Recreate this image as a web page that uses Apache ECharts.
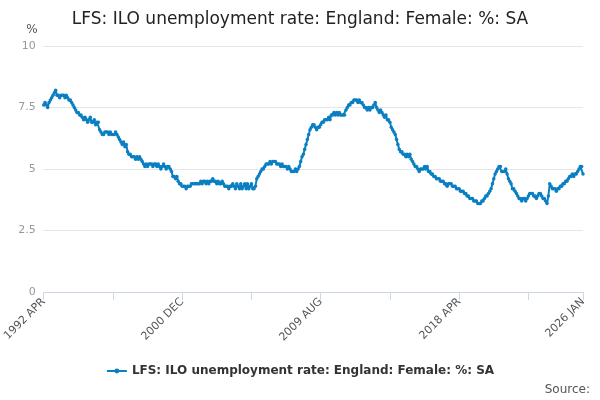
<!DOCTYPE html>
<html>
<head>
<meta charset="utf-8">
<script src="https://cdn.jsdelivr.net/npm/echarts@6/dist/echarts.min.js"></script>
<style>html,body{margin:0;padding:0;background:#fff}#chart{width:600px;height:400px}</style>
</head>
<body>
<div id="chart"></div>
<script>
const seriesName = "LFS: ILO unemployment rate: England: Female: %: SA";
// monthly values from 1992 APR to 2026 JAN
const values = [
  7.6,7.7,7.6,7.5,7.7,7.8,7.9,8.0,8.1,
  8.2,8.0,8.0,7.9,8.0,8.0,8.0,7.9,8.0,7.9,7.8,7.8,
  7.7,7.6,7.5,7.4,7.3,7.3,7.2,7.2,7.1,7.0,7.1,7.0,
  6.9,7.0,7.1,6.9,6.9,7.0,6.8,6.9,6.9,6.6,6.5,6.4,
  6.4,6.5,6.5,6.5,6.4,6.5,6.4,6.4,6.4,6.5,6.4,6.3,
  6.2,6.1,6.0,6.1,5.9,6.0,5.7,5.6,5.6,5.5,5.5,5.5,
  5.4,5.5,5.4,5.5,5.4,5.3,5.2,5.1,5.2,5.1,5.2,5.2,
  5.2,5.1,5.2,5.2,5.1,5.2,5.1,5.0,5.1,5.2,5.1,5.0,
  5.1,5.1,5.0,4.9,4.7,4.7,4.6,4.7,4.5,4.4,4.4,4.3,
  4.3,4.3,4.2,4.3,4.3,4.3,4.4,4.4,4.4,4.4,4.4,4.4,
  4.4,4.5,4.4,4.5,4.5,4.4,4.5,4.4,4.5,4.5,4.6,4.5,
  4.5,4.4,4.5,4.4,4.4,4.5,4.4,4.3,4.3,4.3,4.2,4.3,
  4.3,4.4,4.3,4.2,4.4,4.3,4.2,4.4,4.2,4.3,4.4,4.2,
  4.4,4.2,4.3,4.4,4.2,4.2,4.3,4.6,4.7,4.8,4.9,5.0,
  5.0,5.1,5.2,5.2,5.2,5.3,5.2,5.3,5.3,5.3,5.2,5.2,
  5.2,5.1,5.2,5.1,5.1,5.1,5.0,5.1,5.0,4.9,4.9,4.9,
  5.0,4.9,5.0,5.1,5.3,5.5,5.6,5.8,6.0,6.2,6.4,6.6,
  6.7,6.8,6.8,6.7,6.6,6.7,6.7,6.8,6.9,6.9,7.0,7.0,
  7.0,7.1,7.0,7.2,7.2,7.3,7.2,7.3,7.2,7.3,7.2,7.2,
  7.2,7.2,7.4,7.5,7.6,7.6,7.7,7.7,7.8,7.8,7.8,7.7,
  7.8,7.7,7.7,7.6,7.5,7.5,7.4,7.5,7.4,7.5,7.5,7.6,
  7.7,7.5,7.4,7.3,7.4,7.3,7.2,7.1,7.2,7.0,7.0,6.9,
  6.7,6.6,6.5,6.4,6.2,6.0,5.8,5.7,5.7,5.6,5.6,5.5,
  5.6,5.5,5.6,5.4,5.3,5.2,5.1,5.1,5.0,4.9,5.0,5.0,
  5.0,5.1,5.0,5.1,4.9,4.9,4.8,4.8,4.7,4.7,4.6,4.6,
  4.6,4.5,4.5,4.5,4.4,4.4,4.3,4.4,4.4,4.4,4.3,4.3,
  4.3,4.2,4.2,4.2,4.1,4.1,4.1,4.0,4.0,3.9,3.9,3.8,
  3.8,3.8,3.7,3.7,3.7,3.6,3.6,3.6,3.7,3.7,3.8,3.9,
  3.9,4.0,4.1,4.2,4.4,4.6,4.8,4.9,5.0,5.1,5.1,4.9,
  4.9,4.9,5.0,4.8,4.6,4.5,4.4,4.2,4.2,4.1,4.0,3.9,
  3.8,3.8,3.7,3.8,3.8,3.7,3.8,3.9,4.0,4.0,4.0,3.9,
  3.9,3.8,3.9,4.0,4.0,3.9,3.8,3.8,3.7,3.6,3.9,4.4,
  4.3,4.2,4.2,4.2,4.1,4.2,4.2,4.3,4.3,4.4,4.4,4.5,
  4.5,4.6,4.7,4.7,4.8,4.7,4.8,4.8,4.9,5.0,5.1,5.1,
  4.8
];
const yTicks = [0, 2.5, 5, 7.5, 10];
const monthNames = ["JAN","FEB","MAR","APR","MAY","JUN","JUL","AUG","SEP","OCT","NOV","DEC"];

const categories = [];
for (let i = 0; i < values.length; i++) {
  const m = 3 + i;
  categories.push((1992 + Math.floor(m / 12)) + " " + monthNames[m % 12]);
}

let myChart = echarts.init(document.getElementById("chart"));
let option = {
  animation: false,
  textStyle: { fontFamily: "DejaVu Sans" },
  title: {
    text: "LFS: ILO unemployment rate: England: Female: %: SA",
    left: "center",
    top: 6,
    textStyle: { fontSize: 17, fontWeight: "normal", color: "#222" },
  },
  legend: {
    data: [seriesName],
    bottom: 18,
    left: "center",
    itemWidth: 20,
    itemHeight: 6,
    textStyle: { fontSize: 12, fontWeight: "bold", color: "#333" },
  },
  graphic: [{
    type: "text",
    right: 10,
    bottom: 4,
    style: { text: "Source:", fontSize: 12, fill: "#555", fontFamily: "DejaVu Sans" },
  }],
  grid: { left: 43, right: 17, top: 46, bottom: 108 },
  xAxis: {
    type: "category",
    boundaryGap: false,
    data: categories,
    axisLine: { lineStyle: { color: "#ccd6eb" } },
    axisTick: { interval: 51, length: 8, lineStyle: { color: "#ccd6eb" } },
    axisLabel: {
      interval: 103,
      rotate: 45,
      fontSize: 11,
      color: "#555",
      showMaxLabel: true,
    },
  },
  yAxis: {
    type: "value",
    name: "%",
    nameLocation: "end",
    nameGap: 10,
    nameTextStyle: { align: "right", padding: [0, 6, 0, 0], color: "#555", fontSize: 12 },
    min: 0,
    max: 10,
    interval: 2.5,
    axisLabel: { color: "#999", fontSize: 11, formatter: (v) => yTicks.includes(v) ? String(v) : "" },
    splitLine: { lineStyle: { color: "#e6e6e6" } },
  },
  series: [{
    name: seriesName,
    type: "line",
    data: values,
    showSymbol: true,
    showAllSymbol: true,
    symbol: "circle",
    symbolSize: 3.5,
    itemStyle: { color: "#0a7fc2" },
    lineStyle: { width: 2, color: "#0a7fc2" },
  }],
};
option && myChart.setOption(option);
</script>
</body>
</html>
